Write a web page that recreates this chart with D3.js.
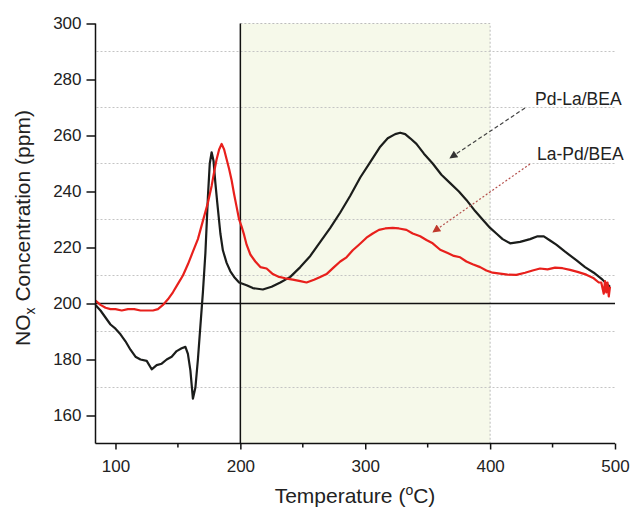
<!DOCTYPE html>
<html>
<head>
<meta charset="utf-8">
<script src="https://cdn.jsdelivr.net/npm/d3@7"></script>
<style>
  html, body { margin: 0; padding: 0; background: #fff; }
  svg { display: block; font-family: "Liberation Sans", Arial, sans-serif; }
</style>
</head>
<body>
<svg id="chart" width="631" height="507"></svg>
<script>
// ---- data ----
const pdLaTemp = [84,88,92,96,100,104,108,112,116,120,125,129,133,137,141,145,149,153,156,158,160,162,164,166,168,170,172,174,175.5,177,178.5,180,181.5,184,186,189,192,195,199,205,210,218,225,232,240,248,256,264,272,280,288,296,304,312,318,324,328,332,336,341,347,354,361,368,375,381,388,395,400,405,410,416,424,432,438,443,448,453,460,469,476,483,490,496];
const pdLaPpm  = [199.5,197.5,195,192.5,191,189,186.5,183.5,181,180,179.5,176.5,178,178.5,180,181,183,184,184.5,182,176,166,170,180,192,204,218,238,250,254,251,243,236,225,219,214.5,211.5,209.5,207.5,206.5,205.5,205,206,207.5,209.5,213,217,222,227,232.5,238.5,245,250.5,256,259,260.5,261,260.5,259,257,253.5,250,246,243,240,237,233,229.5,227,225,223,221.5,222,223,224,224,222.5,221,218.5,215.5,213,211,208.5,206];

const laPdTemp = [84,88,92,96,100,105,110,115,120,125,130,134,138,142,146,150,154,158,162,166,170,174,177,179,181,183,185,187,189,191,193,195,197,199,201,203,205,208,212,216,221,226,231,236,242,248,253,259,264,269,275,280,285,290,295,301,306,311,316,322,327,333,338,344,349,354,360,366,371,376,381,386,392,397,402,408,414,421,428,434,440,446,452,458,464,470,477,483,487,489,491,492,493,494,495,496];
const laPdPpm  = [201,199.5,198.5,198,198,197.5,198,198,197.5,197.5,197.5,198,199.5,201.5,204,207,210,214,218.5,223,229.5,236,242,247,251.5,255,257,255,251.5,248,244,239,234.5,230,227.5,224.5,221,217.5,215,213,212.5,210.5,209.5,209,208.5,208,207.5,208.5,209.5,210.5,213,215,216.5,219,221,223.5,225,226.3,226.8,227,226.8,226.3,225,224,222.7,221.5,219.2,218,217,216.5,215,214,213,211.8,211,210.7,210.3,210.2,211,211.8,212.5,212.2,212.8,212.6,212,211.3,210.3,209,207.5,207.5,203.5,208,204,207.5,202.5,206];

const xTicks = [100, 200, 300, 400, 500];
const xMinorTicks = [150, 250, 350, 450];
const yTicks = [160, 180, 200, 220, 240, 260, 280, 300];
const yGrid = [170, 190, 210, 230, 250, 270, 290];
const xDomain = [84, 500];
const yDomain = [150, 300];
const shadeRange = [200, 400];
const baselinePpm = 200;
const seriesNames = ["Pd-La/BEA", "La-Pd/BEA"];

// ---- layout ----
const svg = d3.select("#chart");
const mLeft = 95.5, mRight = 615, mTop = 23.5, mBottom = 443.5;
const x = d3.scaleLinear().domain(xDomain).range([mLeft, mRight]);
const y = d3.scaleLinear().domain(yDomain).range([mBottom, mTop]);

svg.append("rect").attr("width", 631).attr("height", 507).attr("fill", "#fff");

// shaded region
svg.append("rect")
  .attr("x", x(shadeRange[0])).attr("y", y(yDomain[1]))
  .attr("width", x(shadeRange[1]) - x(shadeRange[0]))
  .attr("height", y(yDomain[0]) - y(yDomain[1]))
  .attr("fill", "#f6f9ea");
svg.append("path")
  .attr("d", `M${x(shadeRange[0])},${y(yDomain[1])}H${x(shadeRange[1])}V${y(yDomain[0])}`)
  .attr("fill", "none").attr("stroke", "#bdbdbd").attr("stroke-width", 1)
  .attr("stroke-dasharray", "2,2");

// grid lines
svg.append("g").selectAll("line").data(yGrid).join("line")
  .attr("x1", mLeft + 1).attr("x2", mRight)
  .attr("y1", d => y(d)).attr("y2", d => y(d))
  .attr("stroke", "#c4c4c4").attr("stroke-width", 1)
  .attr("stroke-dasharray", "2,2");

// baseline at 200 ppm
svg.append("line")
  .attr("x1", mLeft).attr("x2", mRight)
  .attr("y1", y(baselinePpm)).attr("y2", y(baselinePpm))
  .attr("stroke", "#111").attr("stroke-width", 1.5);

// vertical line at 200 C
svg.append("line")
  .attr("x1", x(shadeRange[0])).attr("x2", x(shadeRange[0]))
  .attr("y1", y(yDomain[1])).attr("y2", y(yDomain[0]))
  .attr("stroke", "#111").attr("stroke-width", 1.5);

// curves
const line = d3.line().x(d => x(d[0])).y(d => y(d[1]));
const blackData = pdLaTemp.map((t, i) => [t, pdLaPpm[i]]);
const redData = laPdTemp.map((t, i) => [t, laPdPpm[i]]);
svg.append("path").datum(blackData).attr("d", line)
  .attr("fill", "none").attr("stroke", "#1b1d1b").attr("stroke-width", 2.2)
  .attr("stroke-linejoin", "round");
svg.append("path").datum(redData).attr("d", line)
  .attr("fill", "none").attr("stroke", "#e8201c").attr("stroke-width", 2.2)
  .attr("stroke-linejoin", "round");

// axes
const yAxis = d3.axisLeft(y).tickValues(yTicks).tickSize(9).tickPadding(5).tickFormat(d3.format("d"));
const gy = svg.append("g").attr("transform", `translate(${mLeft},0)`).call(yAxis);
gy.select(".domain").attr("d", `M0,${mTop}V${mBottom}`);

const xAxis = d3.axisBottom(x).tickValues(xTicks).tickSize(6).tickPadding(10).tickFormat(d3.format("d"));
const gx = svg.append("g").attr("transform", `translate(0,${mBottom})`).call(xAxis);
gx.select(".domain").attr("d", `M${mLeft},0H${mRight}`);
gx.append("g").selectAll("line").data(xMinorTicks).join("line")
  .attr("x1", d => x(d)).attr("x2", d => x(d)).attr("y1", 0).attr("y2", 4)
  .attr("stroke", "#111").attr("stroke-width", 1.5);

[gx, gy].forEach(g => {
  g.select(".domain").attr("stroke", "#111").attr("stroke-width", 1.5);
  g.selectAll(".tick line").attr("stroke", "#111").attr("stroke-width", 1.5);
  g.selectAll(".tick text").attr("font-size", 17).attr("fill", "#222")
    .attr("font-family", "'Liberation Sans', Arial, sans-serif");
});

// axis titles
const xt = svg.append("text").attr("x", 355).attr("y", 503)
  .attr("text-anchor", "middle").attr("font-size", 21).attr("fill", "#222");
xt.append("tspan").text("Temperature (");
xt.append("tspan").attr("font-size", 14).attr("dy", -8).text("o");
xt.append("tspan").attr("dy", 8).text("C)");

const yt = svg.append("text").attr("transform", "translate(30,228) rotate(-90)")
  .attr("text-anchor", "middle").attr("font-size", 21).attr("fill", "#222");
yt.append("tspan").text("NO");
yt.append("tspan").attr("font-size", 14).attr("dy", 5).text("x");
yt.append("tspan").attr("dy", -5).text(" Concentration (ppm)");

// annotations
const defs = svg.append("defs");
function marker(id, color) {
  defs.append("marker").attr("id", id).attr("viewBox", "0 0 10 10")
    .attr("refX", 9).attr("refY", 5).attr("markerWidth", 11).attr("markerHeight", 8)
    .attr("markerUnits", "userSpaceOnUse").attr("orient", "auto")
    .append("path").attr("d", "M0,0L10,5L0,10z").attr("fill", color);
}
marker("arrBlack", "#333");
marker("arrRed", "#c0392b");

svg.append("line").attr("x1", 525).attr("y1", 108).attr("x2", 450).attr("y2", 158)
  .attr("stroke", "#444").attr("stroke-width", 1.2).attr("stroke-dasharray", "4,2.5")
  .attr("marker-end", "url(#arrBlack)");
svg.append("line").attr("x1", 530).attr("y1", 164).attr("x2", 433).attr("y2", 232)
  .attr("stroke", "#b5514d").attr("stroke-width", 1.2).attr("stroke-dasharray", "2,2")
  .attr("marker-end", "url(#arrRed)");

svg.append("text").attr("x", 535).attr("y", 105).attr("font-size", 17.5).attr("fill", "#222").text(seriesNames[0]);
svg.append("text").attr("x", 537).attr("y", 160).attr("font-size", 17.5).attr("fill", "#222").text(seriesNames[1]);
</script>
</body>
</html>
